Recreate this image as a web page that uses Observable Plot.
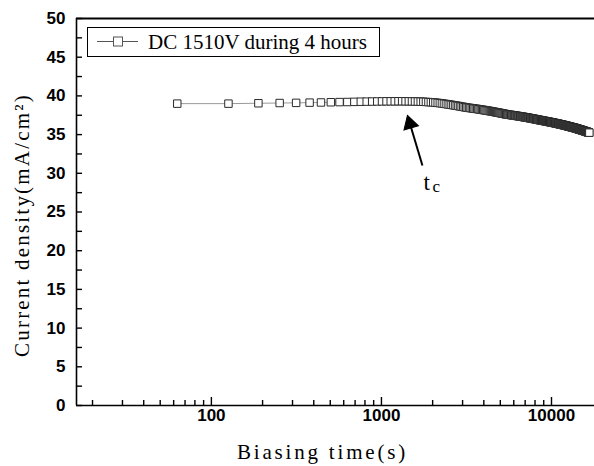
<!DOCTYPE html>
<html><head><meta charset="utf-8">
<script src="https://cdn.jsdelivr.net/npm/d3@7"></script>
<script src="https://cdn.jsdelivr.net/npm/@observablehq/plot@0.6"></script>
<style>
body{margin:0;background:#fff}
#wrap{position:relative;width:594px;height:466px;background:#fff}
#legend{position:absolute;left:0;top:0;pointer-events:none}
</style></head><body><div id="wrap"></div>
<script>
// Biasing time (s)
const timeS = [63,126,189,252,315,378,441,504,567,630,
693,756,819,882,945,1008,1071,1134,1197,1260,
1323,1386,1449,1512,1575,1638,1701,1764,1827,1890,
1953,2016,2079,2142,2205,2268,2331,2394,2457,2520,
2583,2646,2709,2772,2835,2898,2961,3024,3087,3150,
3213,3276,3339,3402,3465,3528,3591,3654,3717,3780,
3843,3906,3969,4032,4095,4158,4221,4284,4347,4410,
4473,4536,4599,4662,4725,4788,4851,4914,4977,5040,
5103,5166,5229,5292,5355,5418,5481,5544,5607,5670,
5733,5796,5859,5922,5985,6048,6111,6174,6237,6300,
6363,6426,6489,6552,6615,6678,6741,6804,6867,6930,
6993,7056,7119,7182,7245,7308,7371,7434,7497,7560,
7623,7686,7749,7812,7875,7938,8001,8064,8127,8190,
8253,8316,8379,8442,8505,8568,8631,8694,8757,8820,
8883,8946,9009,9072,9135,9198,9261,9324,9387,9450,
9513,9576,9639,9702,9765,9828,9891,9954,10017,10080,
10143,10206,10269,10332,10395,10458,10521,10584,10647,10710,
10773,10836,10899,10962,11025,11088,11151,11214,11277,11340,
11403,11466,11529,11592,11655,11718,11781,11844,11907,11970,
12033,12096,12159,12222,12285,12348,12411,12474,12537,12600,
12663,12726,12789,12852,12915,12978,13041,13104,13167,13230,
13293,13356,13419,13482,13545,13608,13671,13734,13797,13860,
13923,13986,14049,14112,14175,14238,14301,14364,14427,14490,
14553,14616,14679,14742,14805,14868,14931,14994,15057,15120,
15183,15246,15309,15372,15435,15498,15561,15624,15687,15750,
15813,15876,15939,16002,16065,16128,16191,16254,16317,16380,
16443,16506,16569,16632,16695];

// Current density (mA/cm2)
const currentDensity = [39.00,39.00,39.05,39.08,39.10,39.13,39.15,39.18,39.20,39.21,
39.23,39.25,39.26,39.27,39.28,39.29,39.30,39.30,39.30,39.31,
39.31,39.30,39.30,39.29,39.28,39.27,39.26,39.24,39.22,39.20,
39.18,39.16,39.13,39.10,39.06,39.03,38.99,38.95,38.91,38.88,
38.84,38.80,38.76,38.73,38.69,38.65,38.61,38.58,38.54,38.50,
38.48,38.45,38.43,38.40,38.38,38.35,38.33,38.31,38.28,38.26,
38.23,38.21,38.18,38.16,38.13,38.11,38.09,38.06,38.04,38.01,
37.99,37.96,37.94,37.91,37.89,37.87,37.84,37.82,37.79,37.77,
37.74,37.72,37.70,37.67,37.65,37.62,37.60,37.59,37.57,37.56,
37.54,37.53,37.51,37.50,37.48,37.47,37.45,37.44,37.42,37.41,
37.39,37.38,37.36,37.35,37.33,37.32,37.30,37.29,37.27,37.26,
37.24,37.23,37.21,37.20,37.18,37.17,37.15,37.14,37.12,37.11,
37.09,37.08,37.06,37.05,37.03,37.02,37.00,36.99,36.97,36.96,
36.94,36.93,36.91,36.90,36.88,36.87,36.85,36.84,36.83,36.81,
36.80,36.79,36.78,36.76,36.75,36.74,36.73,36.71,36.70,36.69,
36.68,36.66,36.65,36.64,36.63,36.61,36.60,36.59,36.58,36.57,
36.55,36.54,36.53,36.52,36.50,36.49,36.48,36.47,36.45,36.44,
36.43,36.42,36.40,36.39,36.38,36.37,36.35,36.34,36.33,36.32,
36.30,36.29,36.28,36.27,36.26,36.24,36.23,36.22,36.21,36.19,
36.18,36.17,36.16,36.14,36.13,36.12,36.11,36.09,36.08,36.07,
36.06,36.04,36.03,36.02,36.01,35.99,35.98,35.97,35.96,35.95,
35.93,35.92,35.91,35.90,35.89,35.87,35.86,35.85,35.84,35.82,
35.81,35.80,35.78,35.77,35.76,35.75,35.73,35.72,35.71,35.69,
35.68,35.67,35.66,35.64,35.63,35.62,35.61,35.59,35.58,35.57,
35.55,35.54,35.53,35.52,35.50,35.49,35.48,35.46,35.45,35.44,
35.43,35.41,35.40,35.39,35.38,35.36,35.35,35.34,35.32,35.31,
35.30,35.29,35.27,35.26,35.25];

const xTicks = [100, 1000, 10000];
const xMinorTicks = [20,30,40,50,60,70,80,90,200,300,400,500,600,700,800,900,2000,3000,4000,5000,6000,7000,8000,9000];
const yTicks = [0,5,10,15,20,25,30,35,40,45,50];
const yMinorTicks = [2.5,7.5,12.5,17.5,22.5,27.5,32.5,37.5,42.5,47.5];
const xDomain = [16.1, 17900];
const yDomain = [0, 50];

const seriesLabel = "DC 1510V during 4 hours";
const xLabel = "Biasing time(s)";
const yLabel = "Current density(mA/cm²)";

// annotation "t_c" with arrow
const arrowHead = [{x: 1471, y: 36.4}];
const arrowTail = [{x1: 1471, y1: 36.4, x2: 1742, y2: 31.0}];
const tcLabel = [{x: 1766, y: 27.9, main: "t", sub: "c"}];

const data = timeS.map((t, i) => ({t, j: currentDensity[i]}));

const chart = Plot.plot({
  width: 594, height: 466,
  marginLeft: 76, marginRight: 0, marginTop: 18, marginBottom: 61,
  style: {fontFamily: "Liberation Sans", background: "white", color: "black"},
  x: {type: "log", domain: xDomain},
  y: {domain: yDomain},
  marks: [
    Plot.line(data, {x: "t", y: "j", stroke: "#999", strokeWidth: 1}),
    Plot.dot(data, {x: "t", y: "j", symbol: "square", r: 4.2, fill: "white", stroke: "#2a2a2a", strokeWidth: 1}),
    Plot.ruleX([xDomain[0]], {stroke: "black", strokeWidth: 1.6}),
    Plot.ruleY([yDomain[0]], {stroke: "black", strokeWidth: 1.6}),
    Plot.ruleY([yDomain[1]], {stroke: "black", strokeWidth: 1.8}),
    Plot.axisY(yTicks, {tickSize: 6, dx: 6, tickFormat: () => "", label: null, strokeWidth: 1.4}),
    Plot.axisY(yMinorTicks, {tickSize: 6, dx: 6, tickFormat: () => "", label: null, strokeWidth: 1.4}),
    Plot.axisY(yTicks, {tickSize: 0, tickPadding: 11, fontSize: 17, label: null}),
    Plot.axisX(xTicks, {tickSize: 8, dy: -8, tickFormat: () => "", label: null, strokeWidth: 1.4}),
    Plot.axisX(xMinorTicks, {tickSize: 5, dy: -5, tickFormat: () => "", label: null, strokeWidth: 1.4}),
    Plot.axisX(xTicks, {tickSize: 0, tickPadding: 3, fontSize: 17, label: null, tickFormat: d => String(d)}),
    Plot.text([xLabel], {text: d => d, frameAnchor: "bottom", textAnchor: "middle", lineAnchor: "bottom", dx: -13, dy: 53, fontSize: 21, fontFamily: "Liberation Serif"}),
    Plot.text([yLabel], {text: d => d, frameAnchor: "left", textAnchor: "middle", lineAnchor: "middle", dx: -54, dy: 13, rotate: -90, fontSize: 21, fontFamily: "Liberation Serif"}),
    Plot.link(arrowTail, {x1: "x1", y1: "y1", x2: "x2", y2: "y2", stroke: "black", strokeWidth: 2}),
    Plot.dot(arrowHead, {x: "x", y: "y", symbol: "triangle", r: 5.6, rotate: -16.7, fill: "black", stroke: "black", strokeWidth: 1}),
    Plot.text(tcLabel, {x: "x", y: "y", text: "main", textAnchor: "start", lineAnchor: "bottom", fontSize: 23, fontFamily: "Liberation Serif"}),
    Plot.text(tcLabel, {x: "x", y: "y", text: "sub", textAnchor: "start", lineAnchor: "bottom", dx: 9, dy: 2, fontSize: 17, fontFamily: "Liberation Serif"})
  ]
});

// styling touches: bold numeric tick labels, spaced axis titles
d3.select(chart).selectAll("text").each(function() {
  const s = this.textContent;
  if (/^\d+$/.test(s)) d3.select(this).attr("font-weight", "bold").style("font-weight", "bold");
  if (s === xLabel) d3.select(this).attr("letter-spacing", "2.8px").style("letter-spacing", "2.8px");
  if (s === yLabel) d3.select(this).attr("letter-spacing", "2.2px").style("letter-spacing", "2.2px");
});

const wrap = document.getElementById("wrap");
wrap.appendChild(chart);

// legend box (top-left, inside the frame)
const leg = d3.select(wrap).append("svg").attr("id", "legend").attr("width", 594).attr("height", 70);
leg.append("rect").attr("x", 87.5).attr("y", 27.5).attr("width", 292).attr("height", 29)
  .attr("fill", "white").attr("stroke", "black").attr("stroke-width", 1);
leg.append("line").attr("x1", 97).attr("x2", 138).attr("y1", 41.5).attr("y2", 41.5)
  .attr("stroke", "#555").attr("stroke-width", 1);
leg.append("rect").attr("x", 113.5).attr("y", 37).attr("width", 9).attr("height", 9)
  .attr("fill", "white").attr("stroke", "#555").attr("stroke-width", 1);
leg.append("text").attr("x", 148).attr("y", 48.5).attr("font-family", "Liberation Serif")
  .attr("font-size", 21).attr("fill", "black").text(seriesLabel);
</script></body></html>
